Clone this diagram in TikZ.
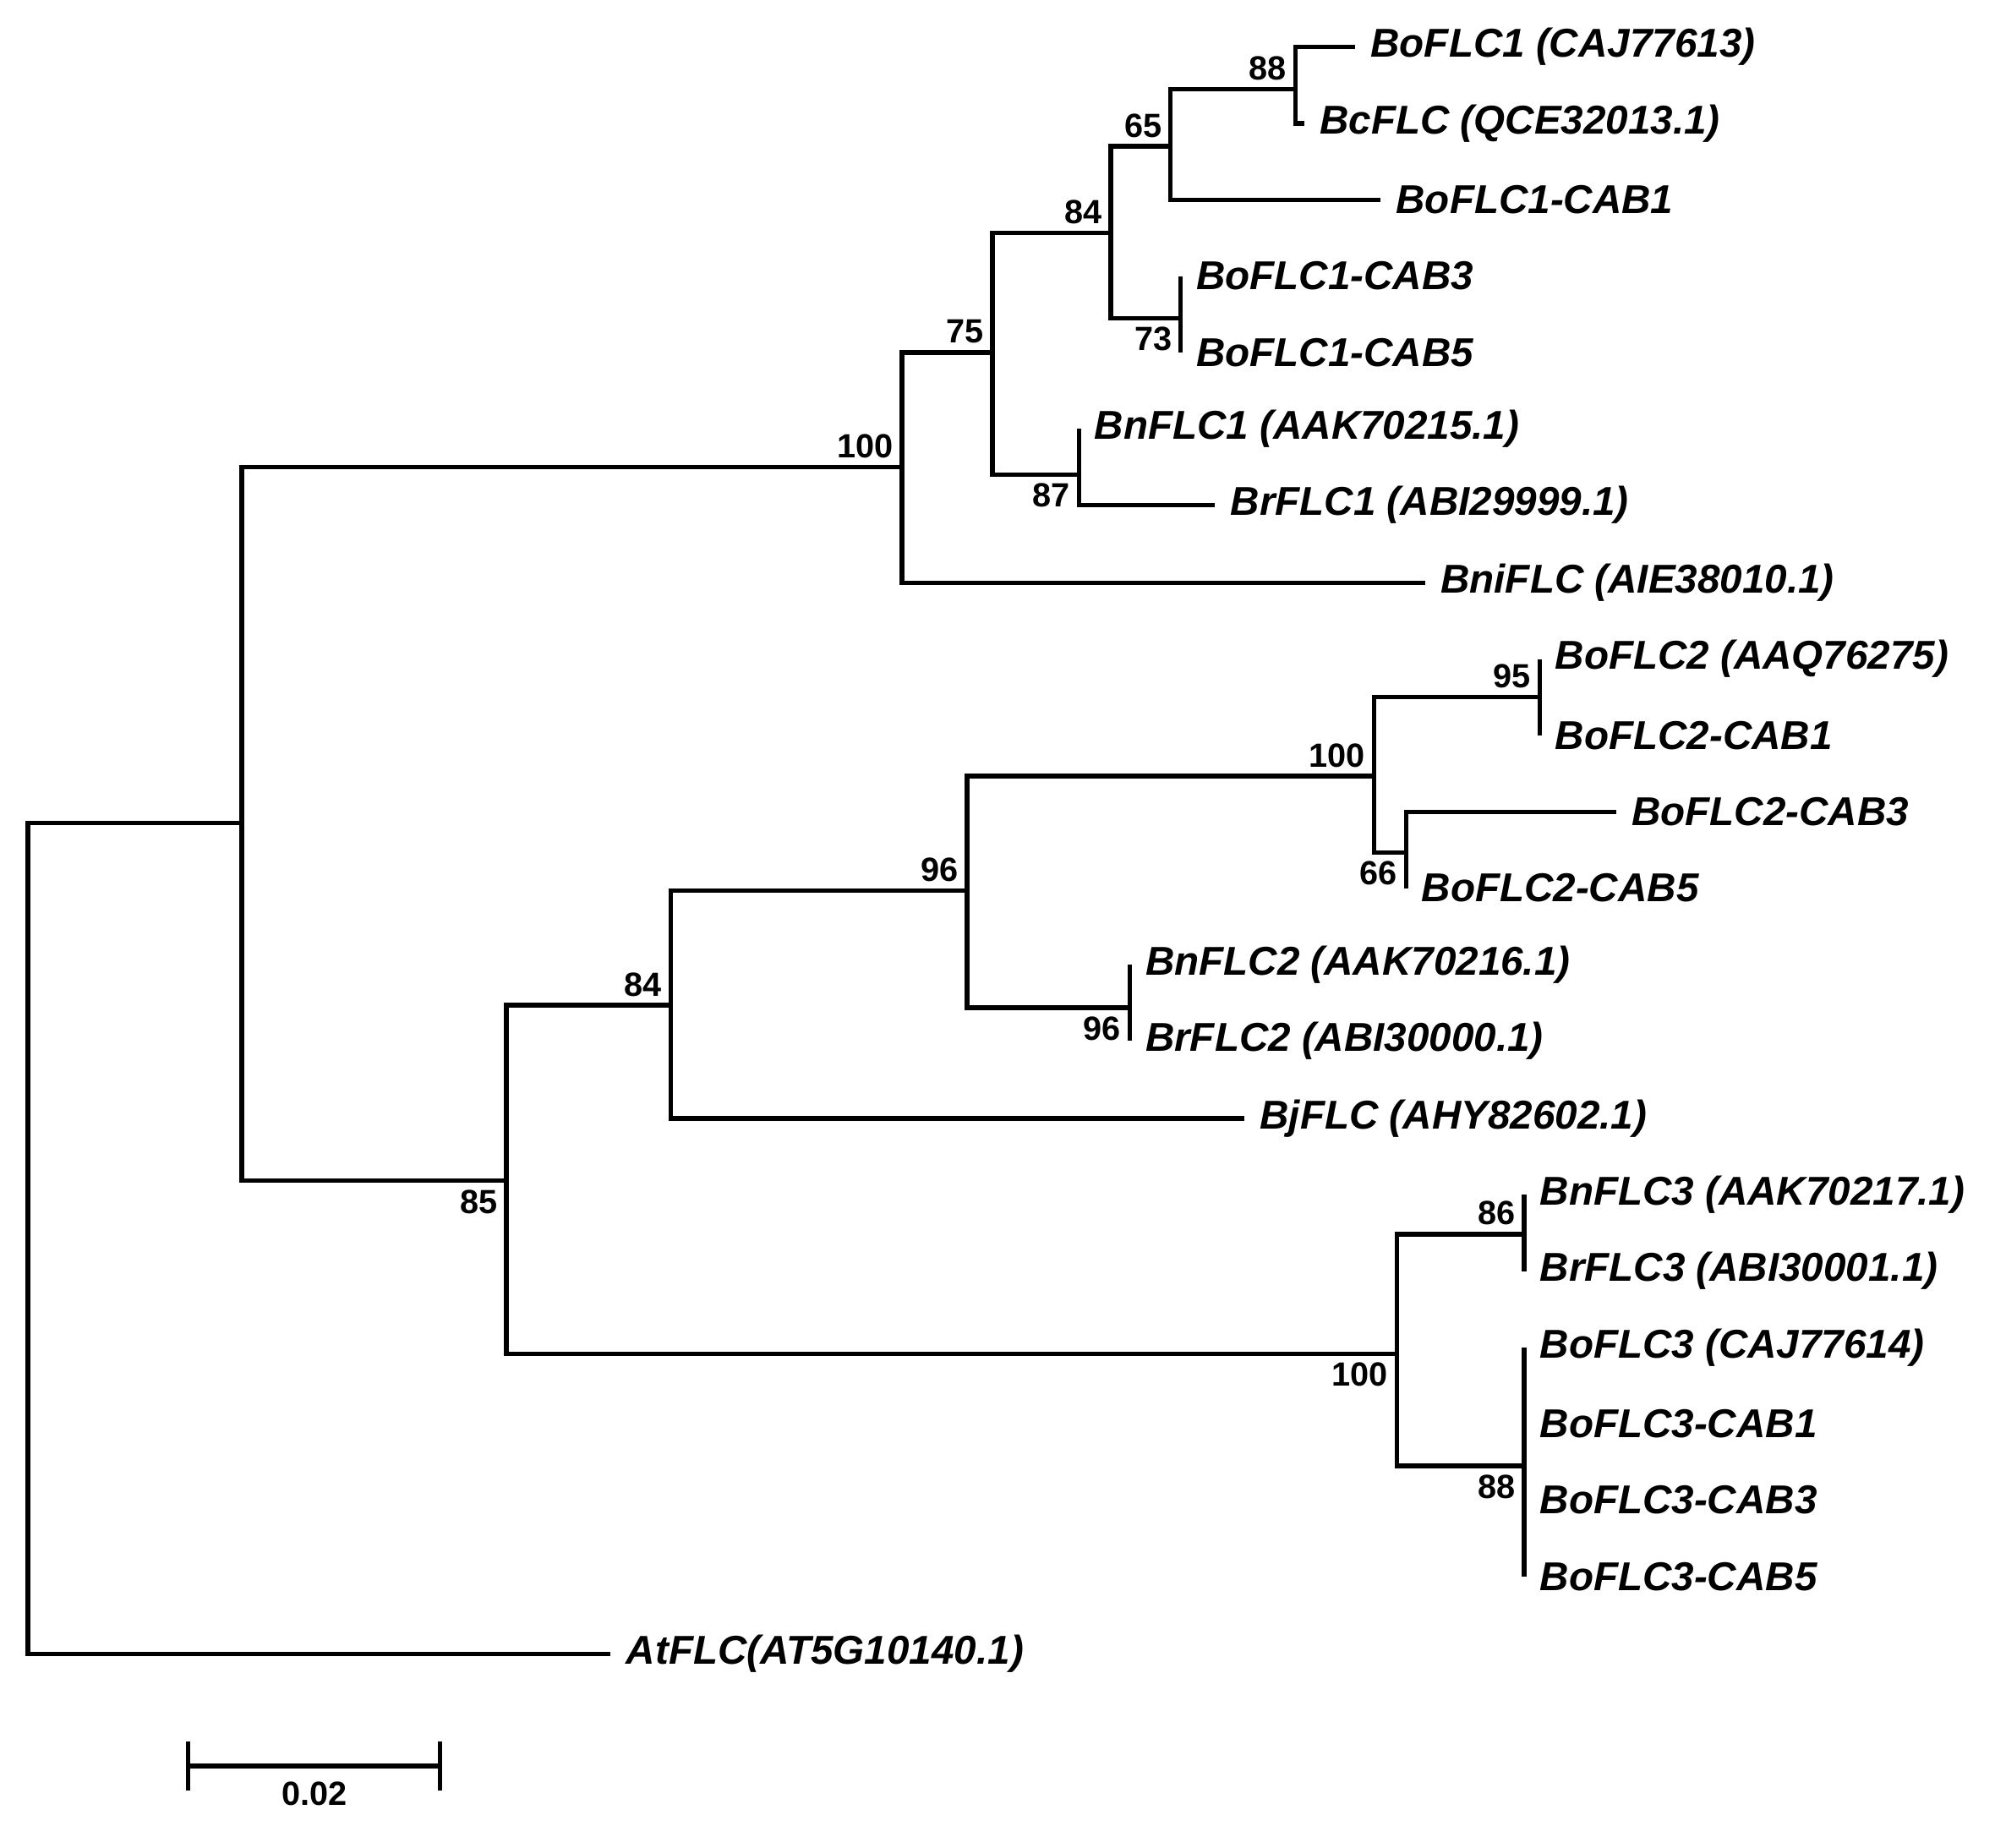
\documentclass[tikz,border=0pt]{standalone}
\usepackage{fontspec}
\setmainfont{Liberation Sans}
\usetikzlibrary{positioning,calc}
\begin{document}
\begin{tikzpicture}[x=0.02cm, y=-0.02cm, line width=2pt,
  leaf/.style={anchor=west, inner xsep=6pt, inner ysep=0pt, font=\fontsize{18}{20}\selectfont\bfseries\itshape},
  bsa/.style={anchor=south east, inner sep=3pt, font=\fontsize{15}{18}\selectfont\bfseries},
  bsb/.style={anchor=north east, inner sep=3pt, font=\fontsize{15}{18}\selectfont\bfseries}]
  \useasboundingbox (0,0) rectangle (1568,1452);
  % internal nodes
  \coordinate (r) at (22,1000);
  \coordinate (a) at (190,647);
  \coordinate (b) at (709,367);
  \coordinate (c) at (780,277);
  \coordinate (d) at (873,183);
  \coordinate (e) at (920,115);
  \coordinate (f) at (1018,70);
  \coordinate (g) at (928,250);
  \coordinate (h) at (848,373);
  \coordinate (i) at (398,928);
  \coordinate (j) at (527,790);
  \coordinate (k) at (760,700);
  \coordinate (l) at (1080,610);
  \coordinate (m) at (1210,548);
  \coordinate (n) at (1105,670);
  \coordinate (o) at (888,792);
  \coordinate (p) at (1098,1064);
  \coordinate (q) at (1198,970);
  \coordinate (s) at (1198,1152);
  % leaves
  \node (t1) [leaf] at (1065,37) {BoFLC1 (CAJ77613)};
  \node (t2) [leaf] at (1025,97) {BcFLC (QCE32013.1)};
  \node (t3) [leaf] at (1085,157) {BoFLC1-CAB1};
  \node (t4) [leaf] at (928,217) {BoFLC1-CAB3};
  \node (t5) [leaf] at (928,277) {BoFLC1-CAB5};
  \node (t6) [leaf] at (848,337) {BnFLC1 (AAK70215.1)};
  \node (t7) [leaf] at (955,397) {BrFLC1 (ABI29999.1)};
  \node (t8) [leaf] at (1120,458) {BniFLC (AIE38010.1)};
  \node (t9) [leaf] at (1210,518) {BoFLC2 (AAQ76275)};
  \node (t10) [leaf] at (1210,578) {BoFLC2-CAB1};
  \node (t11) [leaf] at (1270,638) {BoFLC2-CAB3};
  \node (t12) [leaf] at (1105,698) {BoFLC2-CAB5};
  \node (t13) [leaf] at (888,758) {BnFLC2 (AAK70216.1)};
  \node (t14) [leaf] at (888,818) {BrFLC2 (ABI30000.1)};
  \node (t15) [leaf] at (978,879) {BjFLC (AHY82602.1)};
  \node (t16) [leaf] at (1198,939) {BnFLC3 (AAK70217.1)};
  \node (t17) [leaf] at (1198,999) {BrFLC3 (ABI30001.1)};
  \node (t18) [leaf] at (1198,1059) {BoFLC3 (CAJ77614)};
  \node (t19) [leaf] at (1198,1119) {BoFLC3-CAB1};
  \node (t20) [leaf] at (1198,1179) {BoFLC3-CAB3};
  \node (t21) [leaf] at (1198,1239) {BoFLC3-CAB5};
  \node (t22) [leaf] at (480,1300) {AtFLC(AT5G10140.1)};
  % branches
  \draw (r) |- (a);  \draw (r) |- (t22.west);
  \draw (a) |- (b);  \draw (a) |- (i);
  \draw (b) |- (c);  \draw (b) |- (t8.west);
  \draw (c) |- (d);  \draw (c) |- (h);
  \draw (d) |- (e);  \draw (d) |- (g);
  \draw (e) |- (f);  \draw (e) |- (t3.west);
  \draw (f) |- (t1.west);  \draw (f) |- (t2.west);
  \draw (g) |- (t4.west);  \draw (g) |- (t5.west);
  \draw (h) |- (t6.west);  \draw (h) |- (t7.west);
  \draw (i) |- (j);  \draw (i) |- (p);
  \draw (j) |- (k);  \draw (j) |- (t15.west);
  \draw (k) |- (l);  \draw (k) |- (o);
  \draw (l) |- (m);  \draw (l) |- (n);
  \draw (m) |- (t9.west);  \draw (m) |- (t10.west);
  \draw (n) |- (t11.west);  \draw (n) |- (t12.west);
  \draw (o) |- (t13.west);  \draw (o) |- (t14.west);
  \draw (p) |- (q);  \draw (p) |- (s);
  \draw (q) |- (t16.west);  \draw (q) |- (t17.west);
  \draw (s) |- (t18.west);  \draw (s) |- (t21.west);
  % bootstrap values
  \node [bsa] at (b) {100};
  \node [bsa] at (c) {75};
  \node [bsa] at (d) {84};
  \node [bsa] at (e) {65};
  \node [bsa] at (f) {88};
  \node [bsb] at (g) {73};
  \node [bsb] at (h) {87};
  \node [bsa] at (l) {100};
  \node [bsa] at (m) {95};
  \node [bsb] at (n) {66};
  \node [bsa] at (k) {96};
  \node [bsb] at (o) {96};
  \node [bsa] at (j) {84};
  \node [bsb] at (i) {85};
  \node [bsb] at (p) {100};
  \node [bsa] at (q) {86};
  \node [bsb] at (s) {88};
  % scale bar
  \coordinate (sb1) at (148,1388);
  \coordinate (sb2) at (346,1388);
  \draw (sb1) -- (sb2);
  \draw ([yshift=-11]sb1) -- ([yshift=11]sb1);
  \draw ([yshift=-11]sb2) -- ([yshift=11]sb2);
  \node (sbl) [below=6pt of $(sb1)!0.5!(sb2)$, inner sep=0pt, font=\fontsize{15}{18}\selectfont\bfseries] {0.02};
\end{tikzpicture}
\end{document}
